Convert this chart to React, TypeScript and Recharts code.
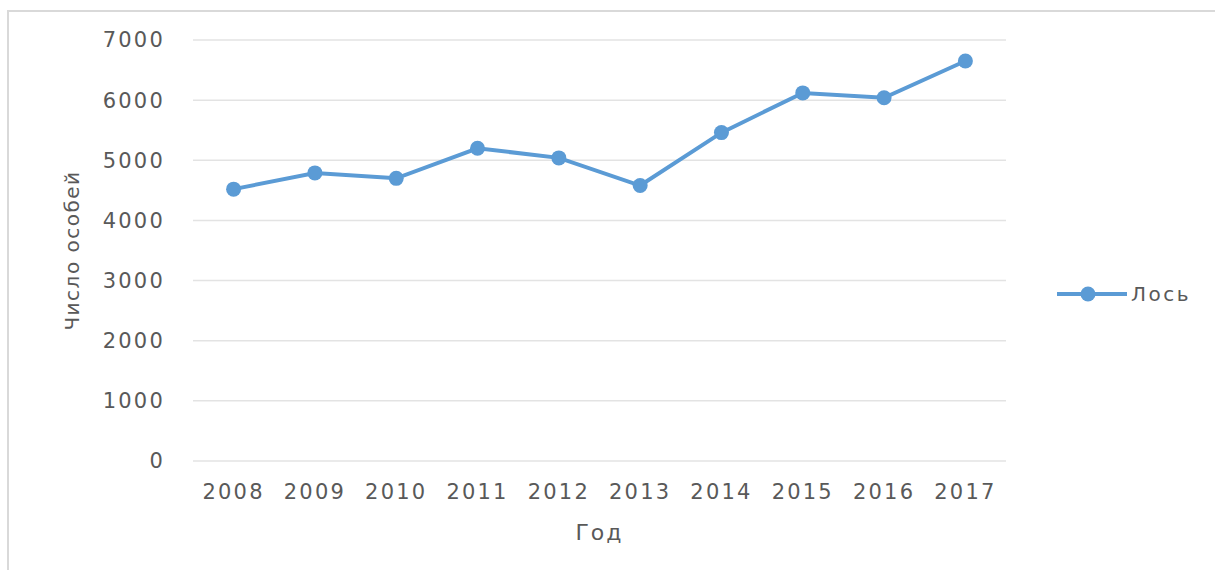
import { LineChart, Line, XAxis, YAxis, CartesianGrid, Legend, Label } from "recharts";

const years = ["2008", "2009", "2010", "2011", "2012", "2013", "2014", "2015", "2016", "2017"];
const moose = [4520, 4790, 4700, 5200, 5040, 4580, 5460, 6120, 6040, 6650];
const yTicks = [0, 1000, 2000, 3000, 4000, 5000, 6000, 7000];

const seriesName = "Лось";
const blue = "#5B9BD5";
const textColor = "#595959";
const font = "'DejaVu Sans', sans-serif";

const data = years.map((year, i) => ({ year, moose: moose[i] }));

const YTitle = (props: any) => {
	const { viewBox } = props;
	const cx = viewBox.x - 11;
	const cy = viewBox.y + viewBox.height / 2;
	return (
		<text
			x={cx}
			y={cy}
			transform={`rotate(-90, ${cx}, ${cy})`}
			textAnchor="middle"
			dominantBaseline="central"
			fill={textColor}
			fontSize={20}
			fontFamily={font}
			letterSpacing={1.5}
		>
			Число особей
		</text>
	);
};

const XTitle = (props: any) => {
	const { viewBox } = props;
	return (
		<text
			x={viewBox.x + viewBox.width / 2}
			y={viewBox.y + 79}
			textAnchor="middle"
			fill={textColor}
			fontSize={22}
			fontFamily={font}
			letterSpacing={2}
		>
			Год
		</text>
	);
};

const LegendBox = () => (
	<div style={{ display: "flex", alignItems: "center" }}>
		<svg width={72} height={20}>
			<line x1={0} y1={10} x2={70} y2={10} stroke={blue} strokeWidth={4} />
			<circle cx={31} cy={10} r={7.5} fill={blue} />
		</svg>
		<span style={{ fontFamily: font, fontSize: 20, color: textColor, letterSpacing: 2.5, marginLeft: 2 }}>
			{seriesName}
		</span>
	</div>
);

const App = () => {
	return (
		<div style={{ position: "absolute", left: 0, top: 0, width: 1215, height: 570, background: "#fff", overflow: "hidden" }}>
			<div
				style={{
					position: "absolute",
					left: 7,
					top: 10,
					width: 1230,
					height: 600,
					border: "2px solid #d9d9d9",
				}}
			/>
			<div style={{ position: "absolute", left: 0, top: 0 }}>
				<LineChart width={1215} height={570} data={data} margin={{ top: 40, right: 209, bottom: 0, left: 83 }}>
					<CartesianGrid vertical={false} stroke="#e3e3e3" strokeWidth={1.5} />
					<XAxis
						dataKey="year"
						axisLine={false}
						tickLine={false}
						tickSize={0}
						tickMargin={23}
						height={109}
						padding={{ left: 40.6, right: 40.6 }}
						tick={{ fill: textColor, fontSize: 21, fontFamily: font, letterSpacing: 2.2 }}
					>
						<Label content={XTitle} />
					</XAxis>
					<YAxis
						domain={[0, 7000]}
						ticks={yTicks}
						axisLine={false}
						tickLine={false}
						tickSize={0}
						tickMargin={28}
						width={110}
						tick={{ fill: textColor, fontSize: 21, fontFamily: font, letterSpacing: 2.2 }}
					>
						<Label content={YTitle} />
					</YAxis>
					<Legend
						layout="vertical"
						align="center"
						verticalAlign="middle"
						content={LegendBox}
						wrapperStyle={{ position: "absolute", left: 1057, top: 282, width: 150 }}
					/>
					<Line
						type="linear"
						dataKey="moose"
						name={seriesName}
						stroke={blue}
						strokeWidth={4}
						dot={{ r: 7.5, fill: blue, stroke: blue, strokeWidth: 0 }}
						isAnimationActive={false}
					/>
				</LineChart>
			</div>
		</div>
	);
};

export default App;
